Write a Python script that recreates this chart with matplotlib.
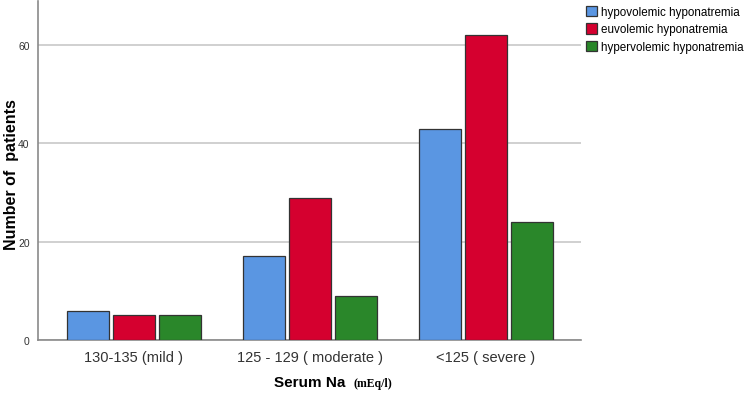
import numpy as np
import matplotlib
matplotlib.use("Agg")
import matplotlib.pyplot as plt

categories = ["130-135 (mild )", "125 - 129 ( moderate )", "<125 ( severe )"]
series_names = ["hypovolemic hyponatremia", "euvolemic hyponatremia", "hypervolemic hyponatremia"]
hypovolemic = [6, 17, 43]
euvolemic = [5, 29, 62]
hypervolemic = [5, 9, 24]
yticks = [0, 20, 40, 60]

colors = ["#5a96e2", "#d5002f", "#2a872a"]

plt.rcParams.update({'font.family': 'Liberation Sans'})

fig = plt.figure(figsize=(7.5, 4.02), dpi=100)
ax = fig.add_axes([0.0507, 0.1517, 0.724, 0.8433])

x = np.arange(len(categories))
w = 0.239
step = 0.262
for i, (vals, name) in enumerate(zip([hypovolemic, euvolemic, hypervolemic], series_names)):
    ax.bar(x + (i - 1) * step, vals, width=w, color=colors[i], edgecolor="#333333",
           linewidth=0.9, label=name, zorder=3)

ax.set_xlim(-0.545, 2.54)
ax.set_ylim(0, 69)
ax.set_yticks(yticks)
ax.yaxis.grid(True, color="#c8c8c8", lw=1.2, zorder=0)
ax.set_xticks(x)
ax.set_xticklabels(categories, fontsize=10.5, color="#333333")
ax.tick_params(axis="y", labelsize=7.5, colors="#333333", length=0, pad=6)
ax.tick_params(axis="x", length=0, pad=7)
for s in ["top", "right"]:
    ax.spines[s].set_visible(False)
for s in ["left", "bottom"]:
    ax.spines[s].set_color("#8a8a8a")
    ax.spines[s].set_linewidth(1.2)

# y label placed by hand so it stays inside the figure
fig.text(0.016, 0.567, "Number of  patients", fontsize=11.5, fontweight="bold",
         rotation=90, ha="center", va="center")

fig.text(0.413, 0.048, "Serum Na", fontsize=11, fontweight="bold", ha="center", va="center")
fig.text(0.472, 0.046, "(mEq/l)", fontsize=8.5, fontweight="bold", family="Liberation Serif",
         ha="left", va="center")

ax.legend(loc="upper left", bbox_to_anchor=(1.0, 1.0), frameon=False, fontsize=8.4,
          handlelength=1.0, handleheight=1.0, handletextpad=0.3, labelspacing=0.45,
          borderaxespad=0.1, borderpad=0.3)

plt.savefig("out.png", dpi=100)
